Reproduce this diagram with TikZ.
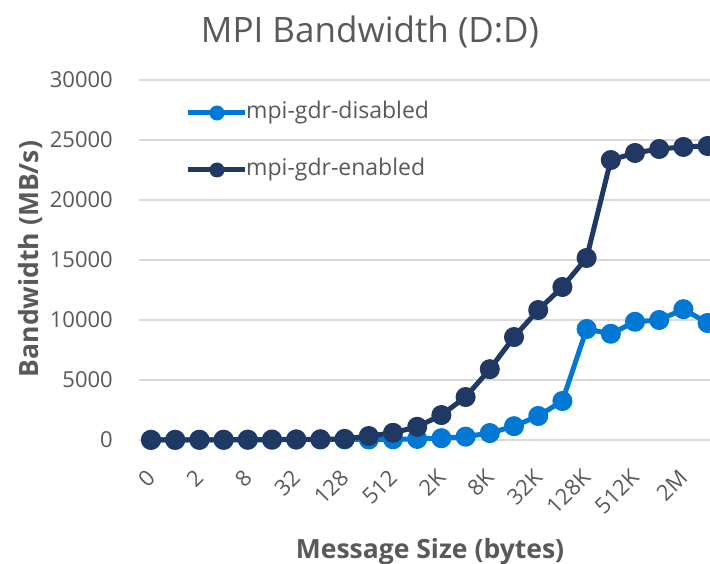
\documentclass[tikz,border=0pt]{standalone}
\usepackage{fontspec}
\setmainfont{Open Sans}
\definecolor{gdroff}{HTML}{0078D4}
\definecolor{gdron}{HTML}{203864}
\definecolor{gridgray}{HTML}{D9D9D9}
\definecolor{labelgray}{HTML}{595959}
\begin{document}
\begin{tikzpicture}[x=1pt,y=1pt,
        gridline/.style={gridgray,line width=1.5pt},
        ticklabel/.style={labelgray,font=\fontsize{22}{22}\selectfont,inner sep=0pt},
        axistitle/.style={labelgray,font=\fontsize{26.5}{26.5}\selectfont\bfseries,inner sep=0pt},
        serie/.style={line width=5pt,line join=round,mark=*,mark size=7.5pt}]
    \useasboundingbox (0,0) rectangle (710,563);

    %TITLE
    \node[labelgray,font=\fontsize{35}{35}\selectfont,inner sep=0pt,anchor=base] (title) at (370,520) {MPI Bandwidth (D:D)};
    %AXIS TITLES
    \node[axistitle,rotate=90,anchor=base] (ytitle) at (38,304) {Bandwidth (MB/s)};
    \node[axistitle,anchor=base] (xtitle) at (430,5) {Message Size (bytes)};

    \begin{scope}[shift={(151,123)},x=24.2pt,y=12pt]
        %GRID + AXIS Y
        \foreach \g/\t in {0/0,5/5000,10/10000,15/15000,20/20000,25/25000,30/30000}{
            \draw[gridline] (-0.5,\g) -- (24,\g);
            \node[ticklabel,anchor=east] at (-1.57,\g) {\t};
        }
        %AXIS X
        \foreach \i/\t in {0/0,2/2,4/8,6/32,8/128,10/512,12/2K,14/8K,16/32K,18/128K,20/512K,22/2M}
            \node[ticklabel,rotate=45,anchor=east] at (\i,-2.8) {\t};

        %DISABLED
        \draw[serie,gdroff] plot coordinates {(0,0.01) (1,0.01) (2,0.01) (3,0.01) (4,0.02) (5,0.02) (6,0.03) (7,0.04) (8,0.05) (9,0.04) (10,0.06) (11,0.09) (12,0.15) (13,0.28) (14,0.58) (15,1.15) (16,2.0) (17,3.25) (18,9.25) (19,8.85) (20,9.85) (21,10.0) (22,10.9) (23,9.75)};
        %ENABLED
        \draw[serie,gdron] plot coordinates {(0,0.01) (1,0.01) (2,0.02) (3,0.02) (4,0.03) (5,0.04) (6,0.05) (7,0.06) (8,0.09) (9,0.33) (10,0.6) (11,1.1) (12,2.08) (13,3.58) (14,5.9) (15,8.58) (16,10.83) (17,12.75) (18,15.17) (19,23.33) (20,23.92) (21,24.25) (22,24.42) (23,24.5)};
    \end{scope}

    %LEGEND
    \draw[gdroff,line width=5pt] (188,450) -- (245,450);
    \fill[gdroff] (217,450) circle (7.5);
    \node[ticklabel,font=\fontsize{23}{23}\selectfont,anchor=base west] (leg1) at (246,444.7) {mpi-gdr-disabled};
    \draw[gdron,line width=5pt] (188,393) -- (245,393);
    \fill[gdron] (217,393) circle (7.5);
    \node[ticklabel,font=\fontsize{23}{23}\selectfont,anchor=base west] (leg2) at (246,387.4) {mpi-gdr-enabled};
\end{tikzpicture}
\end{document}
